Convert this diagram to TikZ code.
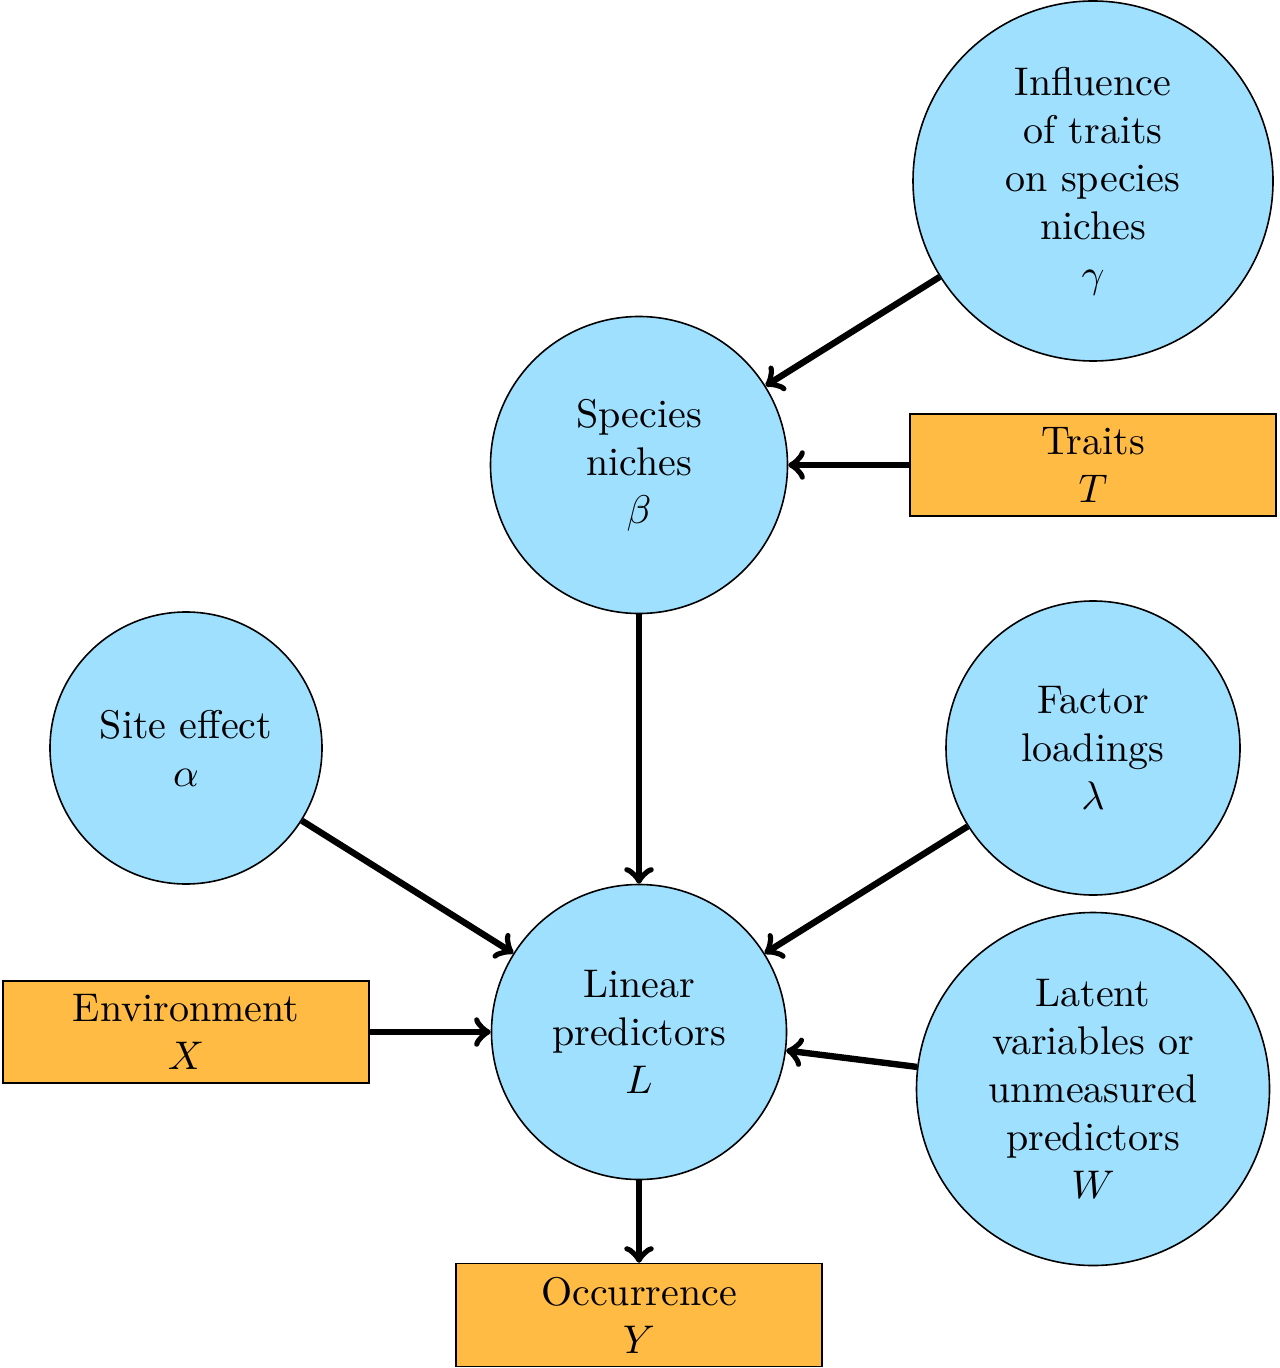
\documentclass[tikz,border=0pt]{standalone}
\begin{document}
\begin{tikzpicture}[x=0.25pt,y=-0.25pt,
  param/.style={circle,draw,fill=pblue,align=center,inner sep=0pt},
  data/.style={rectangle,draw,fill=dorange,align=center,minimum width=91.5pt,minimum height=25.5pt},
  conn/.style={->,ultra thick}]
\definecolor{pblue}{RGB}{160,224,255}
\definecolor{dorange}{RGB}{255,187,68}
\useasboundingbox (0,0) rectangle (1280,1368);
\node[param,minimum size=90pt] (gamma) at (1093,181) {Influence\\of traits\\on species\\niches\\$\gamma$};
\node[param,minimum size=74.25pt] (beta) at (639,465) {Species\\niches\\$\beta$};
\node[data] (T) at (1093,465) {Traits\\$T$};
\node[param,minimum size=68pt] (alpha) at (186,748) {Site effect\\$\alpha$};
\node[param,minimum size=73.5pt] (lambda) at (1093,748) {Factor\\loadings\\$\lambda$};
\node[param,minimum size=73.75pt] (L) at (639,1032) {Linear\\predictors\\$L$};
\node[data] (X) at (186,1032) {Environment\\$X$};
\node[param,minimum size=88.25pt] (W) at (1093,1089) {Latent\\variables or\\unmeasured\\predictors\\$W$};
\node[data] (Y) at (639,1315) {Occurrence\\$Y$};
\draw[conn] (gamma) -- (beta);
\draw[conn] (T) -- (beta);
\draw[conn] (beta) -- (L);
\draw[conn] (alpha) -- (L);
\draw[conn] (lambda) -- (L);
\draw[conn] (X) -- (L);
\draw[conn] (W) -- (L);
\draw[conn] (L) -- (Y);
\end{tikzpicture}
\end{document}
